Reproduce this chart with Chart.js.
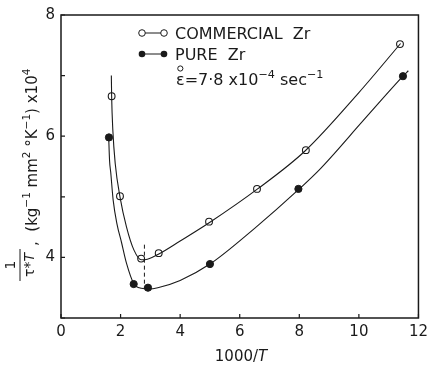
<!DOCTYPE html>
<html>
<head>
<meta charset="utf-8">
<script src="https://cdn.jsdelivr.net/npm/chart.js@4.4.0/dist/chart.umd.min.js"></script>
<style>
  html, body { margin: 0; padding: 0; background: #fff; }
  #wrap { width: 433px; height: 372px; }
</style>
</head>
<body>
<div id="wrap"><canvas id="zrChart"></canvas></div>
<script>
// measured points
const commercialX = [1.70, 1.98, 2.69, 3.28, 4.97, 6.58, 8.22, 11.38];
const commercialY = [6.66, 5.01, 3.98, 4.07, 4.59, 5.13, 5.77, 7.52];
const pureX = [1.61, 2.44, 2.92, 5.00, 7.97, 11.48];
const pureY = [5.98, 3.56, 3.50, 3.89, 5.13, 6.99];

// hand drawn fit curves
const commercialCurveX = [1.69, 1.70, 1.74, 1.82, 1.98, 2.20, 2.45, 2.70, 2.90, 3.30, 4.00, 5.00, 6.60, 8.20, 10.00, 11.40];
const commercialCurveY = [7.00, 6.66, 6.10, 5.55, 5.00, 4.50, 4.12, 3.96, 3.97, 4.06, 4.27, 4.58, 5.13, 5.76, 6.72, 7.53];
const pureCurveX = [1.60, 1.63, 1.67, 1.75, 1.88, 2.03, 2.20, 2.44, 2.70, 2.95, 3.25, 4.00, 5.00, 6.50, 8.00, 8.72, 10.15, 11.48, 11.66];
const pureCurveY = [6.00, 5.60, 5.40, 4.95, 4.55, 4.25, 3.90, 3.57, 3.49, 3.48, 3.50, 3.62, 3.89, 4.48, 5.13, 5.47, 6.26, 6.99, 7.08];

// dashed marker at the minimum
const markX = [2.8, 2.8];
const markY = [4.21, 3.48];

const xTicks = [0, 2, 4, 6, 8, 10, 12];
const yTicks = [4, 6, 8];

const pts = (xs, ys) => xs.map((x, i) => ({ x: x, y: ys[i] }));
const FONT = '"DejaVu Sans", sans-serif';
const INK = '#1a1a1a';

function runsWidth(ctx, runs, size) {
  let w = 0;
  runs.forEach(r => {
    ctx.font = (r.italic ? 'italic ' : '') + (r.sup ? size * 0.7 : size) + 'px ' + FONT;
    w += ctx.measureText(r.t).width;
  });
  return w;
}

function drawRuns(ctx, runs, x, y, size, align) {
  let cx = x;
  if (align === 'center') cx = x - runsWidth(ctx, runs, size) / 2;
  ctx.textAlign = 'left';
  ctx.textBaseline = 'alphabetic';
  runs.forEach(r => {
    ctx.font = (r.italic ? 'italic ' : '') + (r.sup ? size * 0.7 : size) + 'px ' + FONT;
    ctx.fillText(r.t, cx, r.sup ? y - size * 0.45 : y);
    cx += ctx.measureText(r.t).width;
  });
  return cx;
}

const decor = {
  id: 'decor',
  afterDraw(chart) {
    const ctx = chart.ctx;
    const a = chart.chartArea;
    const xs = chart.scales.x, ys = chart.scales.y;
    ctx.save();
    ctx.strokeStyle = INK;
    ctx.fillStyle = INK;

    // frame
    ctx.lineWidth = 1.5;
    ctx.strokeRect(a.left, a.top, a.right - a.left, a.bottom - a.top);

    // inward ticks
    ctx.lineWidth = 1.2;
    ctx.beginPath();
    xs.ticks.forEach(t => {
      const px = xs.getPixelForValue(t.value);
      ctx.moveTo(px, a.bottom); ctx.lineTo(px, a.bottom - 4);
    });
    ys.ticks.forEach(t => {
      const py = ys.getPixelForValue(t.value);
      ctx.moveTo(a.left, py); ctx.lineTo(a.left + 4, py);
    });
    ctx.stroke();

    // x title
    drawRuns(ctx, [{ t: '1000/' }, { t: 'T', italic: true }], 241, 361, 15, 'center');

    // y title, rotated
    ctx.save();
    ctx.translate(0, 265);
    ctx.rotate(-Math.PI / 2);
    ctx.font = '14px ' + FONT;
    ctx.textAlign = 'center';
    ctx.fillText('1', 0, 15);
    ctx.lineWidth = 1;
    ctx.beginPath(); ctx.moveTo(-16, 20); ctx.lineTo(16, 20); ctx.stroke();
    drawRuns(ctx, [{ t: 'τ*' }, { t: 'T', italic: true }], 0, 34, 14, 'center');
    ctx.restore();

    ctx.save();
    ctx.translate(37, 246);
    ctx.rotate(-Math.PI / 2);
    drawRuns(ctx, [
      { t: ',  (kg' }, { t: '−1', sup: true }, { t: ' mm' }, { t: '2', sup: true },
      { t: ' °K' }, { t: '−1', sup: true }, { t: ') x10' }, { t: '4', sup: true }
    ], 0, 0, 15, 'left');
    ctx.restore();

    // legend
    ctx.lineWidth = 1;
    [[33, false], [54, true]].forEach(([ly, filled]) => {
      ctx.beginPath(); ctx.moveTo(142, ly); ctx.lineTo(164, ly); ctx.stroke();
      [142, 164].forEach(lx => {
        ctx.beginPath(); ctx.arc(lx, ly, 3.3, 0, Math.PI * 2);
        if (filled) { ctx.fill(); } else { ctx.fillStyle = '#fff'; ctx.fill(); ctx.fillStyle = INK; ctx.stroke(); }
      });
    });
    drawRuns(ctx, [{ t: 'COMMERCIAL  Zr' }], 175, 39, 16, 'left');
    drawRuns(ctx, [{ t: 'PURE  Zr' }], 175, 60, 16, 'left');
    const eEnd = drawRuns(ctx, [{ t: 'ε' }], 176, 85, 16, 'left');
    ctx.lineWidth = 1;
    ctx.beginPath(); ctx.arc((176 + eEnd) / 2, 68.5, 2.6, 0, Math.PI * 2); ctx.stroke();
    drawRuns(ctx, [{ t: '=7·8 x10' }, { t: '−4', sup: true }, { t: ' sec' }, { t: '−1', sup: true }], eEnd, 85, 16, 'left');
    ctx.restore();
  }
};

new Chart(document.getElementById('zrChart'), {
  type: 'scatter',
  data: {
    datasets: [
      {
        label: 'commercial fit',
        data: pts(commercialCurveX, commercialCurveY),
        showLine: true,
        cubicInterpolationMode: 'monotone',
        borderColor: INK,
        borderWidth: 1.1,
        pointRadius: 0,
      },
      {
        label: 'pure fit',
        data: pts(pureCurveX, pureCurveY),
        showLine: true,
        cubicInterpolationMode: 'monotone',
        borderColor: INK,
        borderWidth: 1.1,
        pointRadius: 0,
      },
      {
        label: 'minimum',
        data: pts(markX, markY),
        showLine: true,
        borderColor: INK,
        borderWidth: 1,
        borderDash: [4, 3],
        pointRadius: 0,
      },
      {
        label: 'COMMERCIAL Zr',
        data: pts(commercialX, commercialY),
        pointRadius: 3.4,
        pointBackgroundColor: '#fff',
        pointBorderColor: INK,
        pointBorderWidth: 1.1,
      },
      {
        label: 'PURE Zr',
        data: pts(pureX, pureY),
        pointRadius: 3.6,
        pointBackgroundColor: INK,
        pointBorderColor: INK,
        pointBorderWidth: 1,
      },
    ],
  },
  options: {
    responsive: true,
    maintainAspectRatio: false,
    animation: false,
    layout: { padding: { top: 12, right: 7, left: 0, bottom: 0 } },
    plugins: { legend: { display: false }, tooltip: { enabled: false } },
    scales: {
      x: {
        type: 'linear',
        min: 0,
        max: 12,
        grid: { display: false, drawTicks: false },
        border: { display: false },
        afterFit: s => { s.height = 54; },
        afterBuildTicks: s => { s.ticks = xTicks.map(v => ({ value: v })); },
        ticks: { padding: 5, color: INK, font: { family: FONT, size: 15 } },
      },
      y: {
        type: 'linear',
        min: 3,
        max: 8,
        grid: { display: false, drawTicks: false },
        border: { display: false },
        afterFit: s => { s.width = 61; },
        ticks: {
          stepSize: 1,
          padding: 6,
          color: INK,
          font: { family: FONT, size: 15 },
          callback: v => (yTicks.includes(v) ? String(v) : ''),
        },
      },
    },
  },
  plugins: [decor],
});
</script>
</body>
</html>
